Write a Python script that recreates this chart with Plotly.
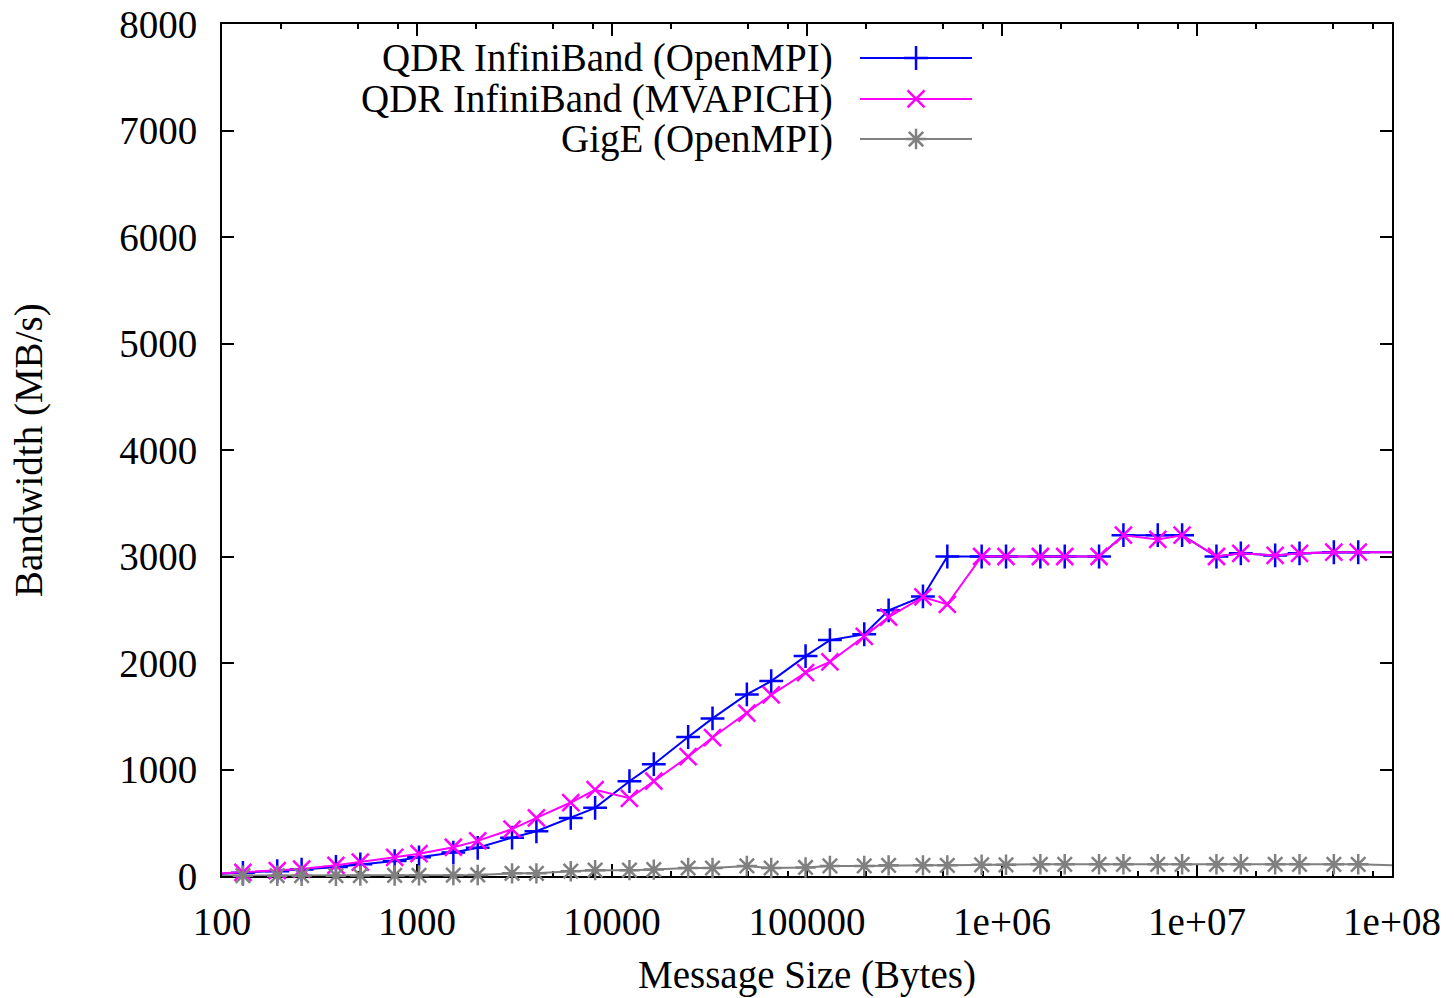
import plotly.graph_objects as go

# Message sizes in bytes (powers of two and 1.5x steps)
sizes = [96, 128, 192, 256, 384, 512, 768, 1024, 1536, 2048, 3072, 4096,
         6144, 8192, 12288, 16384, 24576, 32768, 49152, 65536, 98304,
         131072, 196608, 262144, 393216, 524288, 786432, 1048576, 1572864,
         2097152, 3145728, 4194304, 6291456, 8388608, 12582912, 16777216,
         25165824, 33554432, 50331648, 67108864, 100663296]

# Bandwidth in MB/s
qdr_openmpi = [20, 30, 45, 60, 85, 110, 140, 175, 220, 265, 360, 420,
               545, 640, 890, 1050, 1305, 1480, 1705, 1830, 2065,
               2215, 2270, 2495, 2625, 3000, 3000, 3000, 3000,
               3000, 3000, 3200, 3200, 3200, 3000, 3030,
               3010, 3030, 3040, 3040, 3040]
qdr_mvapich = [25, 35, 50, 65, 100, 130, 175, 210, 270, 330, 440, 545,
               690, 810, 730, 890, 1120, 1300, 1530, 1700, 1910,
               2010, 2250, 2430, 2620, 2550, 3000, 3000, 3000,
               3000, 3000, 3200, 3160, 3200, 3000, 3030,
               3010, 3030, 3040, 3040, 3040]
gige_openmpi = [3, 3, 3, 3, 3, 4, 5, 6, 8, 10, 25, 25,
                45, 55, 55, 60, 75, 75, 95, 75, 80,
                95, 95, 100, 100, 100, 105, 105, 110,
                110, 110, 110, 110, 110, 110, 110,
                110, 110, 110, 110, 100]

series = [
    ("QDR InfiniBand (OpenMPI)", qdr_openmpi, "#0000ff", "cross-thin-open"),
    ("QDR InfiniBand (MVAPICH)", qdr_mvapich, "#ff00ff", "x-thin-open"),
    ("GigE (OpenMPI)", gige_openmpi, "#808080", "asterisk-open"),
]

x_ticks = [1e2, 1e3, 1e4, 1e5, 1e6, 1e7, 1e8]
x_ticktext = ["100", "1000", "10000", "100000", "1e+06", "1e+07", "1e+08"]
x_minor = [m * 10 ** k for k in range(2, 8) for m in (2, 5, 8)]

FONT = "Liberation Serif"
FS = 39
MSIZE = 17
MWIDTH = 2.5

fig = go.Figure()

for name, vals, color, sym in series:
    # full polyline (clipped at the frame)
    fig.add_trace(go.Scatter(
        x=sizes, y=vals, mode="lines", name=name, showlegend=False,
        line=dict(color=color, width=2),
    ))
    # point markers for the sizes inside the axis range
    fig.add_trace(go.Scatter(
        x=sizes[1:-1], y=vals[1:-1], mode="markers", showlegend=False,
        cliponaxis=False,
        marker=dict(symbol=sym, size=MSIZE, color=color,
                    line=dict(color=color, width=MWIDTH)),
    ))

# key samples drawn on an overlay axis spanning the frame
legend_rows = [0.9601, 0.9120, 0.8650]
x_key = [0.5453, 0.5932, 0.6410]
annotations = []
for (name, vals, color, sym), ry in zip(series, legend_rows):
    fig.add_trace(go.Scatter(
        x=x_key, y=[ry, ry, ry], mode="lines", xaxis="x2", yaxis="y2",
        showlegend=False, line=dict(color=color, width=2),
    ))
    fig.add_trace(go.Scatter(
        x=[x_key[1]], y=[ry], mode="markers", xaxis="x2", yaxis="y2",
        showlegend=False,
        marker=dict(symbol=sym, size=MSIZE, color=color,
                    line=dict(color=color, width=MWIDTH)),
    ))
    annotations.append(dict(
        x=0.5239, y=ry, xref="paper", yref="paper", text=name,
        showarrow=False, xanchor="right", yanchor="middle",
        font=dict(family=FONT, size=FS, color="black"),
    ))

annotations.append(dict(
    x=0.5, y=-0.1162, xref="paper", yref="paper", text="Message Size (Bytes)",
    showarrow=False, xanchor="center", yanchor="middle",
    font=dict(family=FONT, size=FS, color="black"),
))
annotations.append(dict(
    x=-0.165, y=0.5, xref="paper", yref="paper", text="Bandwidth (MB/s)",
    showarrow=False, xanchor="center", yanchor="middle", textangle=-90,
    font=dict(family=FONT, size=FS, color="black"),
))

axis_common = dict(
    showline=True, linecolor="black", linewidth=2, mirror="allticks",
    ticks="inside", ticklen=12, tickwidth=1.5, tickcolor="black",
    showgrid=False, zeroline=False, layer="below traces", automargin=False,
    tickfont=dict(family=FONT, size=FS, color="black"),
)

fig.update_layout(
    width=1454, height=998,
    margin=dict(l=222, r=62, t=24, b=122),
    paper_bgcolor="white", plot_bgcolor="white",
    showlegend=False,
    annotations=annotations,
    xaxis=dict(
        type="log", range=[2, 8], tickvals=x_ticks, ticktext=x_ticktext,
        ticklabelstandoff=10,
        minor=dict(tickvals=x_minor, ticks="inside", ticklen=5,
                   tickwidth=1.5, tickcolor="black", showgrid=False),
        **axis_common,
    ),
    yaxis=dict(
        range=[0, 8000], tickvals=list(range(0, 8001, 1000)),
        ticklabelstandoff=15,
        **axis_common,
    ),
    xaxis2=dict(range=[0, 1], overlaying="x", visible=False, fixedrange=True),
    yaxis2=dict(range=[0, 1], overlaying="y", visible=False, fixedrange=True),
)

fig.write_html("out.html")
